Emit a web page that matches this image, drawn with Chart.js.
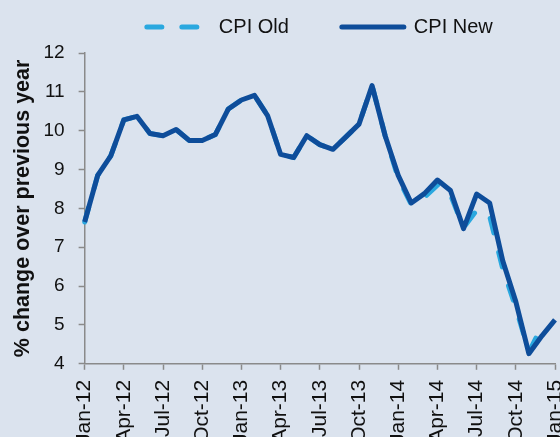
<!DOCTYPE html>
<html>
<head>
<meta charset="utf-8">
<script src="https://cdn.jsdelivr.net/npm/chart.js@4/dist/chart.umd.min.js"></script>
<style>
html,body{margin:0;padding:0;overflow:hidden;background:#dbe3ee}
#wrap{position:relative;width:560px;height:454px}
</style>
</head>
<body>
<div id="wrap"><canvas id="cpiChart"></canvas></div>
<script>
const months = ["Jan-12","Feb-12","Mar-12","Apr-12","May-12","Jun-12","Jul-12","Aug-12","Sep-12","Oct-12","Nov-12","Dec-12",
"Jan-13","Feb-13","Mar-13","Apr-13","May-13","Jun-13","Jul-13","Aug-13","Sep-13","Oct-13","Nov-13","Dec-13",
"Jan-14","Feb-14","Mar-14","Apr-14","May-14","Jun-14","Jul-14","Aug-14","Sep-14","Oct-14","Nov-14","Dec-14",
"Jan-15"]

const cpiNew = [7.65,8.85,9.35,10.28,10.37,9.93,9.87,10.03,9.75,9.75,9.9,10.56,
10.79,10.91,10.39,9.39,9.31,9.87,9.64,9.52,9.84,10.17,11.16,9.87,
8.85,8.14,8.38,8.73,8.46,7.48,8.37,8.14,6.65,5.6,4.26,4.72,
5.13]

const cpiOld = [7.65,8.85,9.35,10.28,10.37,9.93,9.87,10.03,9.75,9.75,9.9,10.56,
10.79,10.91,10.39,9.39,9.31,9.87,9.64,9.52,9.84,10.17,11.16,9.87,
8.78,8.1,8.28,8.6,8.35,7.5,7.95,7.8,6.45,5.45,4.3,4.97,
null]

const axisGrey = "#8a8a8a"
const font = "Arial, 'Liberation Sans'"

// a bit more room between the legend and the plot
const legendGap = {
id:"legendGap",
beforeLayout(chart){
const lg = chart.legend
if(lg && !lg._gap){
const fit = lg.fit
lg.fit = function(){ fit.call(this); this.height += 6 }
lg._gap = true
}
}
}

new Chart(document.getElementById("cpiChart"),{

type:"line",

data:{
labels:months,
datasets:[{
label:"CPI Old",
data:cpiOld,
borderColor:"#2aa8df",
backgroundColor:"#2aa8df",
borderWidth:5,
borderDash:[15,20],
borderCapStyle:"round",
pointRadius:0,
tension:0,
order:1
},{
label:"CPI New",
data:cpiNew,
borderColor:"#0e4d9a",
backgroundColor:"#0e4d9a",
borderWidth:5,
borderJoinStyle:"round",
pointRadius:0,
tension:0,
order:0
}]
},

plugins:[legendGap],

options:{
responsive:true,
maintainAspectRatio:false,
animation:false,
layout:{padding:{top:-36,left:12,right:5,bottom:0}},
plugins:{
tooltip:{enabled:false},
legend:{
fullSize:false,
labels:{
usePointStyle:true,
pointStyle:"line",
pointStyleWidth:62,
padding:53,
color:"#111",
font:{family:font,size:20},
sort:(a,b)=>a.datasetIndex-b.datasetIndex,
generateLabels:(chart)=>{
const items = Chart.defaults.plugins.legend.labels.generateLabels(chart)
items.forEach(it=>{
const ds = chart.data.datasets[it.datasetIndex]
it.lineDash = ds.borderDash || []
it.lineCap = "round"
it.lineWidth = 5
it.strokeStyle = ds.borderColor
})
return items
}
}
}
},
scales:{
x:{
grid:{drawOnChartArea:false,tickLength:6,tickColor:axisGrey,tickWidth:1.5},
border:{color:axisGrey,width:1.5},
ticks:{
autoSkip:false,
minRotation:90,
maxRotation:90,
padding:10,
color:"#111",
font:{family:font,size:21},
callback:function(v,i){return i%3===0?this.getLabelForValue(v):null}
},
afterFit:(s)=>{s.paddingRight=0}
},
y:{
min:4,
max:12,
grid:{drawOnChartArea:false,tickLength:6,tickColor:axisGrey,tickWidth:1.5},
border:{color:axisGrey,width:1.5},
ticks:{
stepSize:1,
padding:14,
color:"#111",
font:{family:font,size:19}
},
title:{
display:true,
text:"% change over previous year",
color:"#111",
font:{family:font,size:21.5,weight:"bold",lineHeight:1},
padding:{top:0,bottom:-4}
}
}
}
}

})
</script>
</body>
</html>
